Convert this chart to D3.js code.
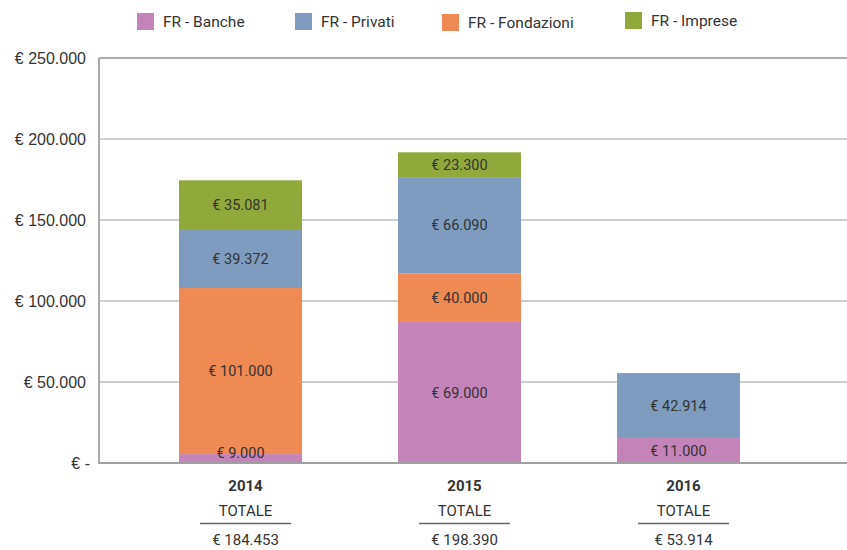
<!DOCTYPE html>
<html>
<head>
<meta charset="utf-8">
<script src="https://cdn.jsdelivr.net/npm/d3@7"></script>
<style>
  html, body { margin: 0; padding: 0; background: #fff; }
  svg { display: block; }
</style>
</head>
<body>
<div id="chart"></div>
<script>
// ---- data ----
const years = ["2014", "2015", "2016"];
const seriesNames = ["FR - Banche", "FR - Privati", "FR - Fondazioni", "FR - Imprese"];
const seriesColors = ["#C584B8", "#7F9BC0", "#F08A54", "#91A93A"];
// stack order from bottom: Banche, Fondazioni, Privati, Imprese
const stackOrder = ["FR - Banche", "FR - Fondazioni", "FR - Privati", "FR - Imprese"];
// bar heights as drawn in the picture
const banche     = [5500, 87000, 15400];
const fondazioni = [102500, 30100, 0];
const privati    = [35800, 59300, 40100];
const imprese    = [30700, 15400, 0];
// data labels as printed
const bancheLabel     = [9000, 69000, 11000];
const fondazioniLabel = [101000, 40000, null];
const privatiLabel    = [39372, 66090, 42914];
const impreseLabel    = [35081, 23300, null];
const totals = [184453, 198390, 53914];
const yTicks = [0, 50000, 100000, 150000, 200000, 250000];
const totalTitle = "TOTALE";

// ---- setup ----
const W = 847, H = 550;
const svg = d3.select("#chart").append("svg").attr("width", W).attr("height", H);
const locale = d3.formatLocale({ decimal: ",", thousands: ".", grouping: [3], currency: ["€ ", ""] });
const fmt = locale.format(",.0f");
const eur = v => "€ " + fmt(v);

const fontMain = "Roboto, 'Noto Sans', sans-serif";
const fontAxis = "'Liberation Sans', Arial, sans-serif";

const y = d3.scaleLinear().domain([0, 250000]).range([463, 58]);
const x = d3.scaleBand().domain(years).range([131, 788]).paddingInner(96 / 219).paddingOuter(48 / 219);
const plotLeft = 99, plotRight = W;

// gridlines
svg.append("g").selectAll("line").data(yTicks.filter(d => d > 0)).join("line")
  .attr("x1", plotLeft).attr("x2", plotRight)
  .attr("y1", d => y(d)).attr("y2", d => y(d))
  .attr("stroke", d => d === 250000 ? "#ababab" : "#cdcdcd").attr("stroke-width", 2);

// y axis labels
const yAxis = d3.axisLeft(y).tickValues(yTicks).tickSize(0).tickPadding(0)
  .tickFormat(d => d === 0 ? "€ -" : eur(d));
const ya = svg.append("g").attr("transform", `translate(86,0)`).call(yAxis);
ya.select(".domain").remove();
ya.selectAll("text").attr("font-family", fontAxis).attr("font-size", 16).attr("fill", "#333")
  .attr("dx", d => d === 0 ? 4 : 0);

// stacked data
const table = years.map((yr, i) => ({
  year: yr,
  "FR - Banche": banche[i], "FR - Fondazioni": fondazioni[i],
  "FR - Privati": privati[i], "FR - Imprese": imprese[i],
  labels: { "FR - Banche": bancheLabel[i], "FR - Fondazioni": fondazioniLabel[i],
            "FR - Privati": privatiLabel[i], "FR - Imprese": impreseLabel[i] }
}));
const stack = d3.stack().keys(stackOrder)(table);
const color = d3.scaleOrdinal().domain(seriesNames).range(seriesColors);

const layers = svg.append("g").selectAll("g").data(stack).join("g")
  .attr("fill", d => color(d.key));
layers.selectAll("rect").data(d => d.map(s => ({ s, key: d.key }))).join("rect")
  .filter(d => d.s[1] - d.s[0] > 0)
  .attr("x", d => x(d.s.data.year))
  .attr("width", x.bandwidth())
  .attr("y", d => y(d.s[1]))
  .attr("height", d => y(d.s[0]) - y(d.s[1]));

// segment labels
const labelG = svg.append("g");
stack.forEach(layer => {
  layer.forEach(s => {
    const lv = s.data.labels[layer.key];
    if (lv == null || s[1] - s[0] <= 0) return;
    const cy = Math.min((y(s[0]) + y(s[1])) / 2, y(0) - 10);
    labelG.append("text")
      .attr("x", x(s.data.year) + x.bandwidth() / 2)
      .attr("y", cy)
      .attr("dy", "0.35em")
      .attr("text-anchor", "middle")
      .attr("font-family", fontMain).attr("font-size", 14.5).attr("fill", "#333")
      .text(eur(lv));
  });
});

// axes lines
svg.append("line").attr("x1", plotLeft).attr("x2", plotLeft).attr("y1", y(250000)).attr("y2", y(0) + 1)
  .attr("stroke", "#a9a9a9").attr("stroke-width", 2);
svg.append("line").attr("x1", plotLeft).attr("x2", plotRight).attr("y1", y(0)).attr("y2", y(0))
  .attr("stroke", "#a0a0a0").attr("stroke-width", 2);

// bottom category labels with totals
const bottom = svg.append("g").selectAll("g").data(years).join("g")
  .attr("transform", d => `translate(${x(d) + x.bandwidth() / 2 + 5},0)`);
bottom.append("text").attr("y", 486).attr("dy", "0.35em").attr("text-anchor", "middle")
  .attr("font-family", fontMain).attr("font-size", 15).attr("font-weight", "bold").attr("fill", "#333")
  .text(d => d);
bottom.append("text").attr("y", 511).attr("dy", "0.35em").attr("text-anchor", "middle")
  .attr("font-family", fontMain).attr("font-size", 15).attr("fill", "#333")
  .text(totalTitle);
bottom.append("line").attr("x1", -45.5).attr("x2", 45.5).attr("y1", 523.5).attr("y2", 523.5)
  .attr("stroke", "#666").attr("stroke-width", 1.5);
bottom.append("text").attr("y", 540).attr("dy", "0.35em").attr("text-anchor", "middle")
  .attr("font-family", fontMain).attr("font-size", 15).attr("fill", "#333")
  .text((d, i) => eur(totals[i]));

// legend
const legendX = [137, 295, 442, 625];
const legendY = [13, 13, 14, 12];
const leg = svg.append("g").selectAll("g").data(seriesNames).join("g")
  .attr("transform", (d, i) => `translate(${legendX[i]},${legendY[i]})`);
leg.append("rect").attr("width", 17).attr("height", 17).attr("fill", d => color(d));
leg.append("text").attr("x", 26).attr("y", 9).attr("dy", "0.35em")
  .attr("font-family", fontMain).attr("font-size", 15.5).attr("fill", "#333")
  .text(d => d);
</script>
</body>
</html>
